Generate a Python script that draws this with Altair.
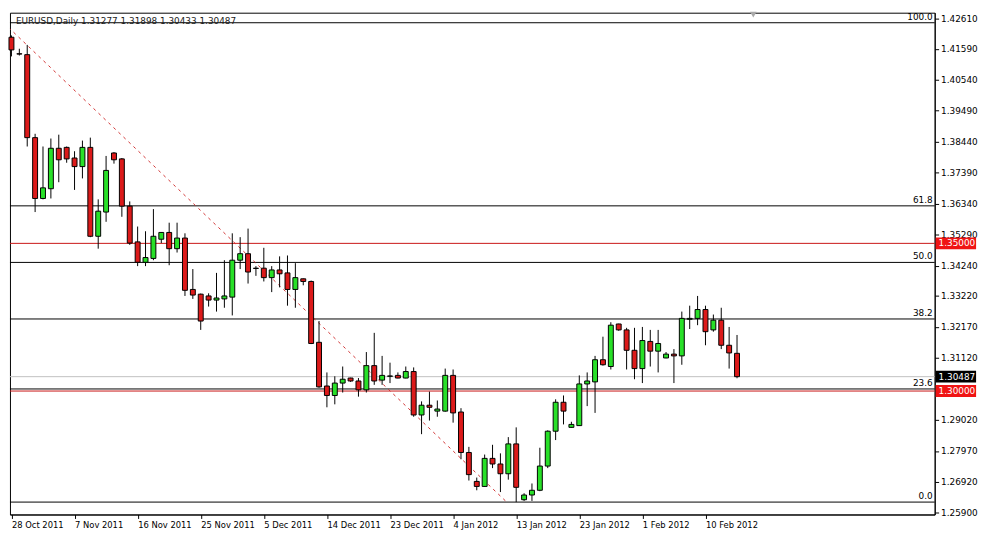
import altair as alt
import pandas as pd

# ---------------- data ----------------
opens = [1.4198, 1.4142, 1.4139, 1.3858, 1.3652, 1.3685, 1.3822, 1.3825, 1.3789, 1.3760,
         1.3825, 1.3524, 1.3606, 1.3806, 1.3786, 1.3626, 1.3505, 1.3436, 1.3449, 1.3514,
         1.3537, 1.3482, 1.3518, 1.3344, 1.3328, 1.3322, 1.3308, 1.3312, 1.3318, 1.3443,
         1.3465, 1.3416, 1.3416, 1.3384, 1.3410, 1.3400, 1.3344, 1.3380, 1.3371, 1.3165,
         1.3017, 1.2985, 1.3027, 1.3044, 1.3034, 1.3004, 1.3086, 1.3037, 1.3050, 1.3053,
         1.3044, 1.3066, 1.2919, 1.2952, 1.2932, 1.2932, 1.3053, 1.2929, 1.2792, 1.2694,
         1.2677, 1.2772, 1.2753, 1.2720, 1.2821, 1.2632, 1.2648, 1.2664, 1.2746, 1.2864,
         1.2962, 1.2877, 1.2883, 1.3024, 1.3031, 1.3106, 1.3083, 1.3227, 1.3207, 1.3138,
         1.3076, 1.3168, 1.3135, 1.3112, 1.3125, 1.3119, 1.3243, 1.3246, 1.3276, 1.3207,
         1.3240, 1.3155, 1.31277]
highs = [1.4204, 1.4159, 1.4172, 1.3871, 1.3828, 1.3855, 1.3868, 1.3828, 1.3812, 1.3848,
         1.3858, 1.3649, 1.3796, 1.3809, 1.3789, 1.3642, 1.3557, 1.3541, 1.3616, 1.3537,
         1.3570, 1.3570, 1.3534, 1.3413, 1.3330, 1.3331, 1.3400, 1.3443, 1.3534, 1.3521,
         1.3550, 1.3423, 1.3485, 1.3423, 1.3456, 1.3459, 1.3433, 1.3381, 1.3374, 1.3237,
         1.3063, 1.3050, 1.3083, 1.3045, 1.3044, 1.3132, 1.3197, 1.3119, 1.3096, 1.3063,
         1.3083, 1.3080, 1.2965, 1.2998, 1.2968, 1.3076, 1.3073, 1.2942, 1.2811, 1.2707,
         1.2785, 1.2818, 1.2789, 1.2844, 1.2877, 1.2654, 1.2687, 1.2808, 1.2867, 1.2972,
         1.2985, 1.2896, 1.3053, 1.3063, 1.3119, 1.3184, 1.3233, 1.3228, 1.3214, 1.3214,
         1.3217, 1.3207, 1.3207, 1.3132, 1.3142, 1.3269, 1.3289, 1.3322, 1.3289, 1.3259,
         1.3282, 1.3217, 1.31898]
lows = [1.4133, 1.4136, 1.3828, 1.3606, 1.3649, 1.3652, 1.3707, 1.3773, 1.3681, 1.3720,
        1.3521, 1.3482, 1.3573, 1.3770, 1.3590, 1.3495, 1.3423, 1.3423, 1.3443, 1.3501,
        1.3426, 1.3469, 1.3322, 1.3312, 1.3207, 1.3286, 1.3269, 1.3282, 1.3256, 1.3413,
        1.3364, 1.3390, 1.3371, 1.3335, 1.3351, 1.3289, 1.3282, 1.3358, 1.3159, 1.3011,
        1.2945, 1.2955, 1.2995, 1.3031, 1.2981, 1.2995, 1.3021, 1.3021, 1.3027, 1.3043,
        1.3043, 1.2913, 1.2854, 1.2900, 1.2913, 1.2930, 1.2893, 1.2769, 1.2697, 1.2664,
        1.2676, 1.2739, 1.2658, 1.2700, 1.2624, 1.2628, 1.2628, 1.2661, 1.2739, 1.2834,
        1.2887, 1.2876, 1.2882, 1.2949, 1.2926, 1.3086, 1.3073, 1.3204, 1.3073, 1.3040,
        1.3027, 1.3083, 1.3063, 1.3111, 1.3027, 1.3089, 1.3210, 1.3223, 1.3155, 1.3201,
        1.3142, 1.3076, 1.30433]
closes = [1.4155, 1.4141, 1.3858, 1.3652, 1.3688, 1.3822, 1.3783, 1.3786, 1.3760, 1.3825,
          1.3524, 1.3609, 1.3747, 1.3783, 1.3626, 1.3501, 1.3436, 1.3452, 1.3524, 1.3537,
          1.3482, 1.3518, 1.3341, 1.3325, 1.3237, 1.3308, 1.3315, 1.3322, 1.3443, 1.3465,
          1.3403, 1.3415, 1.3384, 1.3410, 1.3397, 1.3344, 1.3384, 1.3371, 1.3161, 1.3014,
          1.2985, 1.3027, 1.3040, 1.3034, 1.3004, 1.3086, 1.3034, 1.3053, 1.3051, 1.3044,
          1.3066, 1.2919, 1.2952, 1.2945, 1.2939, 1.3053, 1.2926, 1.2792, 1.2717, 1.2677,
          1.2772, 1.2753, 1.2720, 1.2821, 1.2674, 1.2648, 1.2664, 1.2746, 1.2864, 1.2962,
          1.2932, 1.2887, 1.3024, 1.3034, 1.3106, 1.3089, 1.3223, 1.3207, 1.3138, 1.3076,
          1.3171, 1.3135, 1.3161, 1.3125, 1.3119, 1.3246, 1.3246, 1.3276, 1.3201, 1.3240,
          1.3155, 1.3129, 1.30487]

date_labels = ["28 Oct 2011", "7 Nov 2011", "16 Nov 2011", "25 Nov 2011", "5 Dec 2011",
               "14 Dec 2011", "23 Dec 2011", "4 Jan 2012", "13 Jan 2012", "23 Jan 2012",
               "1 Feb 2012", "10 Feb 2012"]
date_tick_bars = [0, 8, 16, 24, 32, 40, 48, 56, 64, 72, 80, 88]

price_ticks = [1.42610, 1.41590, 1.40540, 1.39490, 1.38440, 1.37390, 1.36340, 1.35290,
               1.34240, 1.33220, 1.32170, 1.31120, 1.29020, 1.27970, 1.26920, 1.25900]

fib_low = 1.2624
fib_high = 1.4247
fib_levels = [0.0, 23.6, 38.2, 50.0, 61.8, 100.0]

red_levels = [1.35000, 1.30000]
bid_price = 1.30487

trend_bars = [-1, 62.8]
trend_prices = [1.4247, 1.2624]

title_text = "EURUSD,Daily  1.31277 1.31898 1.30433 1.30487"

# ---------------- tables ----------------
n = len(opens)
candles = pd.DataFrame({
    "i": list(range(n)),
    "open": opens, "high": highs, "low": lows, "close": closes,
})
candles["top"] = candles[["open", "close"]].max(axis=1)
candles["bot"] = candles[["open", "close"]].min(axis=1)
candles["dir"] = ["up" if c >= o else "down" for o, c in zip(opens, closes)]

fib = pd.DataFrame({
    "lvl": fib_levels,
    "price": [fib_low + (fib_high - fib_low) * l / 100.0 for l in fib_levels],
    "label": [f"{l:.1f}" for l in fib_levels],
})
reds = pd.DataFrame({"price": red_levels})
bid = pd.DataFrame({"price": [bid_price]})
trend = pd.DataFrame({"i": trend_bars, "price": trend_prices})
tags = pd.DataFrame({
    "price": [1.35000, bid_price, 1.30000],
    "label": ["1.35000", "1.30487", "1.30000"],
    "bg": ["#f01414", "#000000", "#f01414"],
})

# ---------------- layout ----------------
W = 938
H = 509
FONT = "DejaVu Sans"
FS = 9

x_scale = alt.Scale(domain=[-0.1875, -0.1875 + W / 8.0], nice=False, zero=False, padding=0)
y_scale = alt.Scale(domain=[1.2582, 1.4281], nice=False, zero=False, padding=0)

label_expr = "[" + ",".join(f"'{d}'" for d in date_labels) + "][round(datum.value/8)]"

x_axis = alt.Axis(values=date_tick_bars, labelExpr=label_expr, title=None, grid=False,
                  labelAlign="left", labelPadding=2, tickSize=4, labelFont=FONT,
                  labelFontSize=8.5, labelColor="#000000", tickColor="#000000",
                  domainColor="#000000", labelOverlap=False, labelFlush=False)
y_axis = alt.Axis(orient="right", values=price_ticks, format=".5f", title=None, grid=False,
                  tickSize=4, labelPadding=2, labelFont=FONT, labelFontSize=FS,
                  labelColor="#000000", tickColor="#000000", domainColor="#000000",
                  labelOverlap=False, labelFlush=False)


def X(field):
    return alt.X(field, scale=x_scale, axis=x_axis)


def Y(field):
    return alt.Y(field, scale=y_scale, axis=y_axis)


base = alt.Chart(candles)

wicks = base.mark_rule(color="#000000", strokeWidth=1).encode(
    x=X("i:Q"), y=Y("low:Q"), y2="high:Q",
)

bodies = base.mark_bar(size=5, stroke="#000000", strokeWidth=1).encode(
    x=X("i:Q"), y=Y("bot:Q"), y2="top:Q",
    color=alt.Color("dir:N", scale=alt.Scale(domain=["up", "down"],
                                             range=["#28e028", "#dc1a1a"]), legend=None),
)

fib_lines = alt.Chart(fib).mark_rule(color="#000000", strokeWidth=1).encode(y=Y("price:Q"))
fib_text = alt.Chart(fib).mark_text(align="right", baseline="bottom", dy=-1,
                                    font=FONT, fontSize=FS, color="#000000").encode(
    x=alt.value(W - 2), y=Y("price:Q"), text="label:N",
)

red_lines = alt.Chart(reds).mark_rule(color="#c81414", strokeWidth=1).encode(y=Y("price:Q"))
bid_line = alt.Chart(bid).mark_rule(color="#c0c0c0", strokeWidth=1).encode(y=Y("price:Q"))

trend_line = alt.Chart(trend).mark_line(color="#d03030", strokeWidth=1,
                                        strokeDash=[3, 4], clip=True).encode(
    x=X("i:Q"), y=Y("price:Q"),
)

tag_boxes = alt.Chart(tags).mark_rule(strokeWidth=12, strokeCap="butt").encode(
    x=alt.value(W + 1), x2=alt.value(W + 42), y=Y("price:Q"),
    color=alt.Color("bg:N", scale=None, legend=None),
)
tag_text = alt.Chart(tags).mark_text(align="left", baseline="middle", font=FONT,
                                     fontSize=FS, color="#ffffff").encode(
    x=alt.value(W + 4), y=Y("price:Q"), text="label:N",
)

title_mark = alt.Chart(pd.DataFrame({"t": [title_text]})).mark_text(
    align="left", baseline="alphabetic", font=FONT, fontSize=FS, color="#1a1a1a"
).encode(x=alt.value(6), y=alt.value(11), text="t:N")

shift_marker = alt.Chart(pd.DataFrame({"m": [1]})).mark_point(
    shape="triangle-down", filled=True, color="#a8a8a8", size=45, opacity=1
).encode(x=alt.value(754), y=alt.value(2))

chart = alt.layer(
    bid_line, red_lines, fib_lines, fib_text, trend_line, wicks, bodies,
    tag_boxes, tag_text, title_mark, shift_marker,
).properties(
    width=W, height=H, padding={"left": 0, "top": 0, "right": 0, "bottom": 0},
    background="#ffffff",
).configure_view(stroke="#000000", strokeWidth=1)

chart.save("out.html", embed_options={"renderer": "svg", "actions": False})
